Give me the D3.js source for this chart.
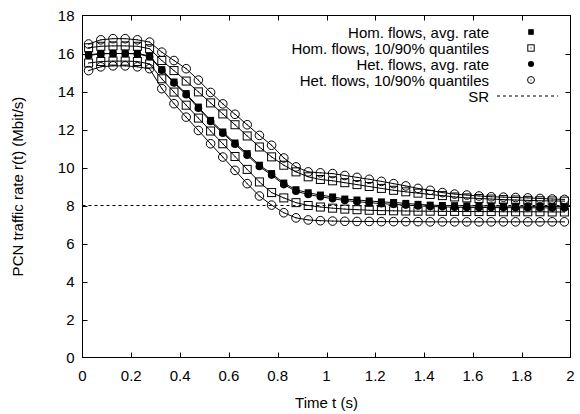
<!DOCTYPE html>
<html>
<head>
<meta charset="utf-8">
<script src="https://cdn.jsdelivr.net/npm/d3@7"></script>
<style>
  html, body { margin: 0; padding: 0; background: #fff; }
  svg { display: block; }
  text { font-family: "Liberation Sans", Arial, Helvetica, sans-serif; fill: #000; }
</style>
</head>
<body>
<svg id="chart" width="580" height="414"></svg>
<script>
// ---- data ----
const time = [0.025,0.075,0.125,0.175,0.225,0.275,0.325,0.375,0.425,0.475,
              0.525,0.575,0.625,0.675,0.725,0.775,0.825,0.875,0.925,0.975,
              1.025,1.075,1.125,1.175,1.225,1.275,1.325,1.375,1.425,1.475,
              1.525,1.575,1.625,1.675,1.725,1.775,1.825,1.875,1.925,1.975];

const homAvg = [15.93,16.0,16.0,16.0,16.0,15.87,15.15,14.5,13.89,13.18,
                12.48,11.87,11.29,10.73,10.12,9.68,9.18,8.83,8.67,8.55,
                8.45,8.34,8.29,8.24,8.19,8.16,8.11,8.06,8.02,8.0,
                7.99,7.98,7.98,7.97,7.97,7.96,7.96,7.95,7.95,7.95];

const homP90 = [16.3,16.38,16.4,16.4,16.38,16.25,15.63,15.1,14.55,13.98,
                13.4,12.82,12.25,11.66,11.08,10.56,10.12,9.77,9.51,9.37,
                9.3,9.2,9.1,9.0,8.9,8.8,8.72,8.65,8.58,8.52,
                8.45,8.4,8.37,8.34,8.31,8.29,8.27,8.25,8.24,8.23];

const homP10 = [15.5,15.58,15.6,15.6,15.58,15.45,14.67,13.97,13.28,12.6,
                11.92,11.25,10.58,9.9,9.24,8.68,8.4,8.15,8.0,7.92,
                7.86,7.81,7.78,7.75,7.73,7.72,7.71,7.7,7.7,7.69,
                7.69,7.68,7.68,7.68,7.67,7.67,7.67,7.67,7.66,7.66];

const hetAvg = [15.9,15.98,16.0,16.0,15.98,15.83,15.12,14.45,13.83,13.12,
                12.42,11.8,11.22,10.65,10.05,9.6,9.1,8.75,8.58,8.46,
                8.36,8.26,8.2,8.15,8.1,8.06,8.02,7.98,7.95,7.93,
                7.91,7.9,7.9,7.89,7.89,7.88,7.88,7.88,7.87,7.87];

const hetP90 = [16.5,16.72,16.78,16.78,16.72,16.6,16.07,15.63,15.2,14.6,
                13.95,13.35,12.8,12.25,11.69,11.17,10.5,10.03,9.77,9.72,
                9.68,9.58,9.48,9.38,9.27,9.15,9.03,8.9,8.8,8.68,
                8.6,8.55,8.5,8.46,8.44,8.42,8.4,8.37,8.34,8.32];

const hetP10 = [15.1,15.3,15.35,15.35,15.3,15.2,14.15,13.36,12.65,11.95,
                11.25,10.55,9.85,9.15,8.5,8.02,7.62,7.35,7.24,7.2,
                7.18,7.17,7.16,7.16,7.15,7.15,7.15,7.15,7.14,7.14,
                7.14,7.14,7.14,7.14,7.14,7.14,7.14,7.14,7.14,7.14];

const srRate = 8;

const xTicks = [0,0.2,0.4,0.6,0.8,1,1.2,1.4,1.6,1.8,2];
const yTicks = [0,2,4,6,8,10,12,14,16,18];

const legendLabels = ["Hom. flows, avg. rate", "Hom. flows, 10/90% quantiles",
                      "Het. flows, avg. rate", "Het. flows, 10/90% quantiles", "SR"];

// ---- layout ----
const L = 82.5, R = 570.5, T = 15.5, B = 357.5;
const svg = d3.select("#chart");
const x = d3.scaleLinear().domain([0, 2]).range([L, R]);
const y = d3.scaleLinear().domain([0, 18]).range([B, T]);

const FS = 15;

// ticks (inward, mirrored)
const tl = 5;
const g = svg.append("g");
xTicks.forEach(t => {
  const px = Math.round(x(t)) + 0.5;
  if (t > 0 && t < 2) {
    g.append("line").attr("x1", px).attr("x2", px).attr("y1", B).attr("y2", B - tl).attr("stroke", "#000");
    g.append("line").attr("x1", px).attr("x2", px).attr("y1", T).attr("y2", T + tl).attr("stroke", "#000");
  }
  g.append("text").attr("x", x(t)).attr("y", B + 23).attr("text-anchor", "middle")
    .attr("font-size", FS).text(d3.format("~g")(t));
});
yTicks.forEach(t => {
  const py = Math.round(y(t)) + 0.5;
  if (t > 0 && t < 18) {
    g.append("line").attr("x1", L).attr("x2", L + tl).attr("y1", py).attr("y2", py).attr("stroke", "#000");
    g.append("line").attr("x1", R).attr("x2", R - tl).attr("y1", py).attr("y2", py).attr("stroke", "#000");
  }
  g.append("text").attr("x", L - 8).attr("y", y(t) + 5.5).attr("text-anchor", "end")
    .attr("font-size", FS).text(t);
});

// axis titles
svg.append("text").attr("x", (L + R) / 2).attr("y", 408).attr("text-anchor", "middle")
  .attr("font-size", FS).text("Time t (s)");
svg.append("text").attr("transform", `translate(23,${(T + B) / 2}) rotate(-90)`)
  .attr("text-anchor", "middle").attr("font-size", FS).text("PCN traffic rate r(t) (Mbit/s)");

// SR dashed line
svg.append("line").attr("x1", L).attr("x2", R).attr("y1", y(srRate)).attr("y2", y(srRate))
  .attr("stroke", "#000").attr("stroke-width", 1).attr("stroke-dasharray", "3,3");

// series
const series = [
  { vals: homAvg, type: "fsq" },
  { vals: homP10, type: "osq" },
  { vals: homP90, type: "osq" },
  { vals: hetAvg, type: "fci" },
  { vals: hetP10, type: "oci" },
  { vals: hetP90, type: "oci" }
];
const line = d3.line().x((d, i) => x(time[i])).y(d => y(d));

function drawMarker(sel, type, cx, cy, k = 1) {
  if (type === "fsq") {
    const h = 3.5 * k;
    sel.append("rect").attr("x", cx - h).attr("y", cy - h).attr("width", 2 * h).attr("height", 2 * h).attr("fill", "#000");
  } else if (type === "osq") {
    const h = 4 * k;
    sel.append("rect").attr("x", cx - h).attr("y", cy - h).attr("width", 2 * h).attr("height", 2 * h)
      .attr("fill", "none").attr("stroke", "#000").attr("stroke-width", 1);
    sel.append("rect").attr("x", cx - 0.5).attr("y", cy - 0.5).attr("width", 1).attr("height", 1).attr("fill", "#000");
  } else if (type === "fci") {
    sel.append("circle").attr("cx", cx).attr("cy", cy).attr("r", 3.8 * k).attr("fill", "#000");
  } else {
    sel.append("circle").attr("cx", cx).attr("cy", cy).attr("r", 4.3 * k)
      .attr("fill", "none").attr("stroke", "#000").attr("stroke-width", 1);
    sel.append("rect").attr("x", cx - 0.5).attr("y", cy - 0.5).attr("width", 1).attr("height", 1).attr("fill", "#000");
  }
}

series.forEach(s => {
  svg.append("path").datum(s.vals).attr("d", line).attr("fill", "none")
    .attr("stroke", "#000").attr("stroke-width", 1);
  const mg = svg.append("g");
  s.vals.forEach((v, i) => drawMarker(mg, s.type, x(time[i]), y(v)));
});

// frame
svg.append("rect").attr("x", L).attr("y", T).attr("width", R - L).attr("height", B - T)
  .attr("fill", "none").attr("stroke", "#000").attr("stroke-width", 1);

// legend
const legTypes = ["fsq", "osq", "fci", "oci", "sr"];
const lg = svg.append("g");
legendLabels.forEach((lab, k) => {
  const ly = 32 + k * 16;
  lg.append("text").attr("x", 489).attr("y", ly + 5.5).attr("text-anchor", "end")
    .attr("font-size", FS).text(lab);
  if (legTypes[k] === "sr") {
    lg.append("line").attr("x1", 497).attr("x2", 558).attr("y1", ly).attr("y2", ly)
      .attr("stroke", "#000").attr("stroke-dasharray", "3,3");
  } else {
    drawMarker(lg, legTypes[k], 531, ly, 0.8);
  }
});
</script>
</body>
</html>
